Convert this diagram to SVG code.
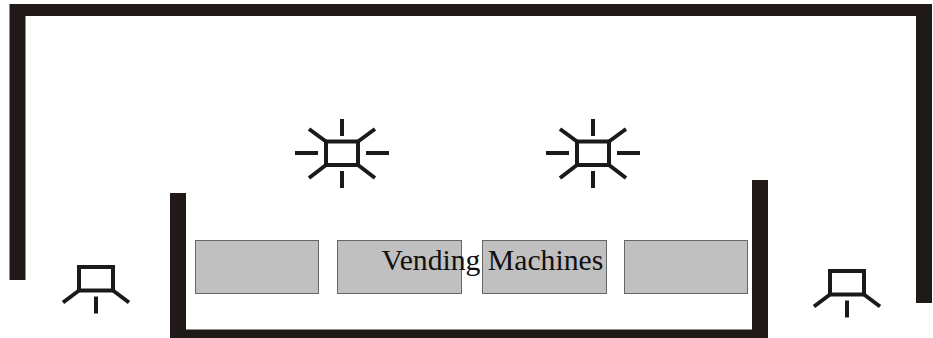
<svg xmlns="http://www.w3.org/2000/svg" width="933" height="338" viewBox="0 0 933 338">
<style>
.wall{fill:#1f1a17}
.vm{fill:#c0c0c0;stroke:#666;stroke-width:1}
.fx{fill:none;stroke:#1a1a1a;stroke-width:4}
.lb{font-family:"Liberation Serif","Times New Roman",serif;font-size:29.700px;fill:#111}
</style>
<defs>
<g id="lamp" class="fx">
<rect x="-17" y="-11.500" width="34" height="23.500"/>
<path d="M-17 12L-33 24M17 12L33 24M0 18V35"/>
</g>
<g id="light" class="fx">
<rect x="-16" y="-11.500" width="32" height="23.500"/>
<path d="M-16 -11.500L-33 -24M16 -11.500L33 -24M-16 12L-33 25M16 12L33 25M0 -34V-17M0 18V35M-47 0H-24M24 0H47"/>
</g>
</defs>
<rect width="933" height="338" fill="#fff"/>
<g id="walls">
<path id="outer-wall" class="wall" d="M9.500 280V4H932V303H916V16H25.500V280Z"/>
<path id="inner-wall" class="wall" d="M170 193H186V329.500H752V180H768V338H170Z"/>
</g>
<g id="vending-1"><rect class="vm" x="195.500" y="240.500" width="123" height="53"/></g>
<g id="vending-2"><rect class="vm" x="337.500" y="240.500" width="124" height="53"/></g>
<g id="vending-3"><rect class="vm" x="482.500" y="240.500" width="124" height="53"/></g>
<g id="vending-4"><rect class="vm" x="624.500" y="240.500" width="123" height="53"/></g>
<g id="light-1"><use href="#light" x="342" y="153"/></g>
<g id="light-2"><use href="#light" x="593" y="153"/></g>
<g id="lamp-1"><use href="#lamp" x="96" y="278.500"/></g>
<g id="lamp-2"><use href="#lamp" x="847" y="282.500"/></g>
<g id="label"><text class="lb" x="381.500" y="270">Vending Machines</text></g>
</svg>
